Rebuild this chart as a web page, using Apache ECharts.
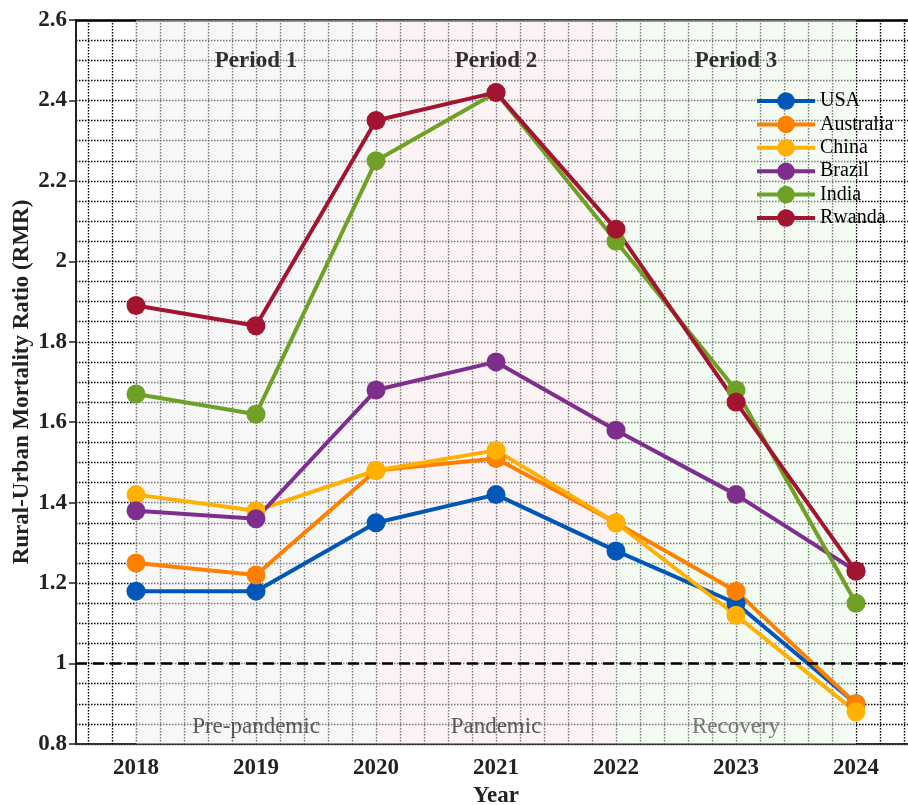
<!DOCTYPE html>
<html>
<head>
<meta charset="utf-8">
<script src="https://cdn.jsdelivr.net/npm/echarts@6/dist/echarts.min.js"></script>
<style>
html,body{margin:0;padding:0;background:#fff}
#chart{width:908px;height:805px}
</style>
</head>
<body>
<div id="chart"></div>
<script>
// data
var years = [2018, 2019, 2020, 2021, 2022, 2023, 2024];
var usa       = [1.18, 1.18, 1.35, 1.42, 1.28, 1.15, 0.90];
var australia = [1.25, 1.22, 1.48, 1.51, 1.35, 1.18, 0.90];
var china     = [1.42, 1.38, 1.48, 1.53, 1.35, 1.12, 0.88];
var brazil    = [1.38, 1.36, 1.68, 1.75, 1.58, 1.42, 1.23];
var india     = [1.67, 1.62, 2.25, 2.42, 2.05, 1.68, 1.15];
var rwanda    = [1.89, 1.84, 2.35, 2.42, 2.08, 1.65, 1.23];

var countryNames = ['USA', 'Australia', 'China', 'Brazil', 'India', 'Rwanda'];
var countryValues = [usa, australia, china, brazil, india, rwanda];
var countryColors = ['#0057b7', '#ff8000', '#ffb000', '#7e2f8e', '#6ea125', '#a2142f'];

var periodTitles = ['Period 1', 'Period 2', 'Period 3'];
var periodNotes = ['Pre-pandemic', 'Pandemic', 'Recovery'];
var periodStart = [2018, 2020, 2022];
var periodEnd = [2020, 2022, 2024];
var periodMid = [2019, 2021, 2023];
var periodFill = ['rgba(240,240,240,0.5)', 'rgba(250,234,234,0.5)', 'rgba(232,248,232,0.5)'];
var noteColors = ['#333', '#333', '#5a5a5a'];

var serif = 'Liberation Serif';

// vertical grid every 0.2 year
var gridXs = [];
for (var k = 0; k < 35; k++) {
    gridXs.push([Math.round((2017.6 + 0.2 * k) * 10) / 10, 0.8]);
}

var chart = echarts.init(document.getElementById('chart'));

var series = [];

series.push({
    type: 'custom',
    xAxisIndex: 2,
    silent: true,
    z: 1,
    data: gridXs,
    renderItem: function (params, api) {
        var a = api.coord([api.value(0), 2.6]);
        var b = api.coord([api.value(0), 0.8]);
        var x = Math.round(a[0]) + 0.5;
        return {
            type: 'line',
            shape: { x1: x, y1: a[1], x2: x, y2: b[1] },
            style: { stroke: '#000', lineWidth: 1.4, lineDash: [1.5, 1.5] }
        };
    }
});

series.push({
    type: 'custom',
    xAxisIndex: 2,
    silent: true,
    z: 2,
    data: periodStart.map(function (s, i) { return [s, periodEnd[i], i]; }),
    renderItem: function (params, api) {
        var a = api.coord([api.value(0), 2.6]);
        var b = api.coord([api.value(1), 0.8]);
        return {
            type: 'rect',
            shape: { x: a[0], y: a[1], width: b[0] - a[0], height: b[1] - a[1] },
            style: { fill: periodFill[api.value(2)] }
        };
    }
});

countryNames.forEach(function (name, i) {
    var s = {
        name: name,
        type: 'line',
        xAxisIndex: 2,
        z: 3,
        data: years.map(function (y, j) { return [y, countryValues[i][j]]; }),
        symbol: 'circle',
        symbolSize: 19,
        color: countryColors[i],
        lineStyle: { width: 4, color: countryColors[i] },
        itemStyle: { color: countryColors[i] }
    };
    if (i === 0) {
        s.markLine = {
            silent: true,
            symbol: 'none',
            label: { show: false },
            lineStyle: { color: '#000', width: 2.5, type: [11, 6] },
            data: [{ yAxis: 1 }]
        };
    }
    series.push(s);
});

series.push({
    type: 'scatter',
    xAxisIndex: 2,
    silent: true,
    z: 5,
    symbolSize: 1,
    itemStyle: { color: 'rgba(0,0,0,0)' },
    label: {
        show: true, position: 'inside', formatter: '{b}',
        fontFamily: serif, fontWeight: 'bold', fontSize: 23, color: '#000'
    },
    data: periodTitles.map(function (t, i) { return { name: t, value: [periodMid[i], 2.497] }; })
});

series.push({
    type: 'scatter',
    xAxisIndex: 2,
    silent: true,
    z: 5,
    symbolSize: 1,
    itemStyle: { color: 'rgba(0,0,0,0)' },
    data: periodNotes.map(function (t, i) {
        return {
            name: t, value: [periodMid[i], 0.842],
            label: {
                show: true, position: 'inside', formatter: '{b}',
                fontFamily: serif, fontSize: 23, color: noteColors[i]
            }
        };
    })
});

var option = {
    animation: false,
    backgroundColor: '#fff',
    grid: { left: 76, top: 20, width: 840, height: 724, outerBoundsMode: 'none', containLabel: false },
    legend: {
        data: countryNames,
        orient: 'vertical',
        left: 750,
        top: 86,
        itemWidth: 58,
        itemHeight: 22,
        itemGap: 3.4,
        lineStyle: { width: 4 },
        textStyle: { fontFamily: serif, fontSize: 20, color: '#000' }
    },
    xAxis: [
        {
            type: 'category',
            position: 'bottom',
            data: years,
            boundaryGap: true,
            name: 'Year',
            nameLocation: 'middle',
            nameGap: 41,
            nameTextStyle: { fontFamily: serif, fontWeight: 'bold', fontSize: 23, color: '#222' },
            axisLine: { lineStyle: { color: '#333', width: 2 } },
            axisTick: { inside: true, alignWithLabel: true, length: 7, lineStyle: { color: '#333', width: 1.5 } },
            axisLabel: { margin: 13, fontFamily: serif, fontWeight: 'bold', fontSize: 23, color: '#222' },
            splitLine: { show: false }
        },
        {
            type: 'category',
            position: 'top',
            data: years,
            boundaryGap: true,
            axisLine: { lineStyle: { color: '#000', width: 2.5 } },
            axisTick: { inside: true, alignWithLabel: true, length: 7, lineStyle: { color: '#000', width: 1.5 } },
            axisLabel: { show: false },
            splitLine: { show: false }
        },
        {
            type: 'value',
            position: 'bottom',
            show: false,
            min: 2017.5,
            max: 2024.5,
            splitLine: { show: false }
        }
    ],
    yAxis: {
        type: 'value',
        min: 0.8,
        max: 2.6,
        interval: 0.2,
        name: 'Rural-Urban Mortality Ratio (RMR)',
        nameLocation: 'middle',
        nameGap: 42,
        nameMoveOverlap: false,
        nameTextStyle: { fontFamily: serif, fontWeight: 'bold', fontSize: 23, color: '#222' },
        axisLine: { show: true, lineStyle: { color: '#222', width: 2 } },
        axisTick: { show: true, inside: false, length: 7, lineStyle: { color: '#222', width: 1.5 } },
        axisLabel: { margin: 9, fontFamily: serif, fontWeight: 'bold', fontSize: 23, color: '#222' },
        splitLine: { show: true, lineStyle: { color: '#000', width: 1.4, type: [1.5, 1.5] } },
        minorTick: { show: false, splitNumber: 4 },
        minorSplitLine: { show: true, lineStyle: { color: '#000', width: 1.4, type: [1.5, 1.5] } }
    },
    series: series
};

chart.setOption(option);
</script>
</body>
</html>
